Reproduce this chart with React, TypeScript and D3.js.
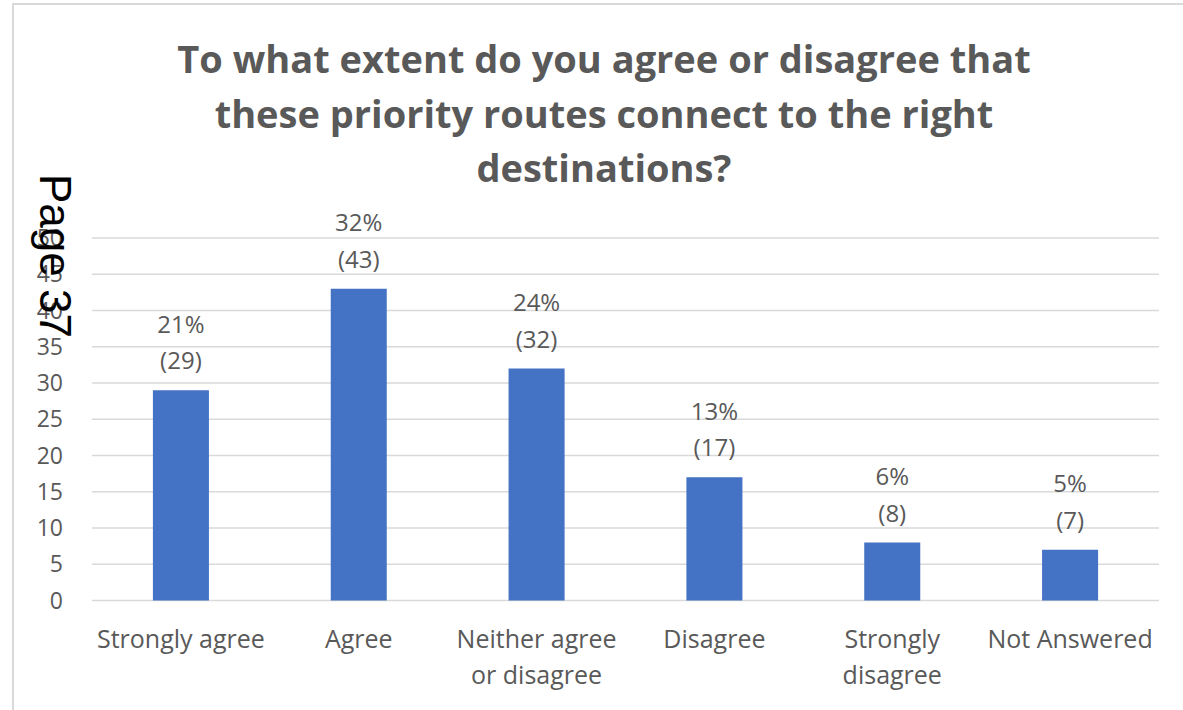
import React, { useEffect, useRef } from "react";
import * as d3 from "d3";

const categories = ["Strongly agree", "Agree", "Neither agree or disagree", "Disagree", "Strongly disagree", "Not Answered"];
const categoryLines = [["Strongly agree"], ["Agree"], ["Neither agree", "or disagree"], ["Disagree"], ["Strongly", "disagree"], ["Not Answered"]];
const counts = [29, 43, 32, 17, 8, 7];
const percents = ["21%", "32%", "24%", "13%", "6%", "5%"];
const yTicks = [0, 5, 10, 15, 20, 25, 30, 35, 40, 45, 50];
const titleLines = [
  "To what extent do you agree or disagree that",
  "these priority routes connect to the right",
  "destinations?",
];

const W = 1183;
const H = 710;
const FONT = "'Open Sans', sans-serif";
const GRAY = "#595959";

export default function App() {
  const ref = useRef<SVGSVGElement>(null);
  useEffect(() => {
    document.body.style.margin = "0";
    const svg = d3.select(ref.current);
    svg.selectAll("*").remove();

    const left = 92, right = 1159, top = 238, bottom = 600.5;
    const x = d3.scaleBand().domain(categories).range([left, right]).paddingInner(0.685).paddingOuter(0.3425);
    const y = d3.scaleLinear().domain([0, 50]).range([bottom, top]);

    svg.append("rect").attr("width", W).attr("height", H).attr("fill", "#fff");
    // frame
    svg.append("line").attr("x1", 12).attr("x2", W).attr("y1", 4).attr("y2", 4).attr("stroke", "#d9d9d9").attr("stroke-width", 2);
    svg.append("line").attr("x1", 13).attr("x2", 13).attr("y1", 3).attr("y2", H).attr("stroke", "#d9d9d9").attr("stroke-width", 2);

    // title
    const title = svg.append("text").attr("fill", GRAY).attr("font-family", FONT).attr("font-weight", 700).attr("font-size", 38).attr("text-anchor", "middle");
    const titleY = [73, 128, 182];
    titleLines.forEach((t, i) => title.append("tspan").attr("x", 604).attr("y", titleY[i]).text(t));

    // grid
    svg.append("g").selectAll("line").data(yTicks).join("line")
      .attr("x1", left).attr("x2", right)
      .attr("y1", (d) => y(d)).attr("y2", (d) => y(d))
      .attr("stroke", "#d9d9d9").attr("stroke-width", 1.5);

    // y tick labels
    svg.append("g").selectAll("text").data(yTicks).join("text")
      .attr("x", 63).attr("y", (d) => y(d)).attr("dy", "0.35em")
      .attr("text-anchor", "end").attr("font-family", FONT).attr("font-size", 23).attr("fill", GRAY)
      .text((d) => String(d));

    // bars
    svg.append("g").selectAll("rect").data(counts).join("rect")
      .attr("x", (_, i) => x(categories[i])!)
      .attr("width", x.bandwidth())
      .attr("y", (d) => y(d))
      .attr("height", (d) => y(0) - y(d))
      .attr("fill", "#4472C4");

    // data labels
    const lab = svg.append("g").attr("font-family", FONT).attr("font-size", 24).attr("fill", GRAY).attr("text-anchor", "middle");
    counts.forEach((c, i) => {
      const cx = x(categories[i])! + x.bandwidth() / 2;
      lab.append("text").attr("x", cx).attr("y", y(c) - 57.5).text(percents[i]);
      lab.append("text").attr("x", cx).attr("y", y(c) - 21).text(`(${c})`);
    });

    // category labels
    const cat = svg.append("g").attr("font-family", FONT).attr("font-size", 25).attr("fill", GRAY).attr("text-anchor", "middle");
    categories.forEach((c, i) => {
      const cx = x(c)! + x.bandwidth() / 2;
      categoryLines[i].forEach((l, j) => cat.append("text").attr("x", cx).attr("y", 648 + j * 36).text(l));
    });

    // page stamp
    svg.append("text").attr("transform", "translate(40,174) rotate(90)")
      .attr("font-family", "'Liberation Sans', Arial, sans-serif").attr("font-size", 44).attr("fill", "#000")
      .text("Page 37");
  }, []);
  return <svg ref={ref} width={W} height={H} style={{ display: "block" }} />;
}
